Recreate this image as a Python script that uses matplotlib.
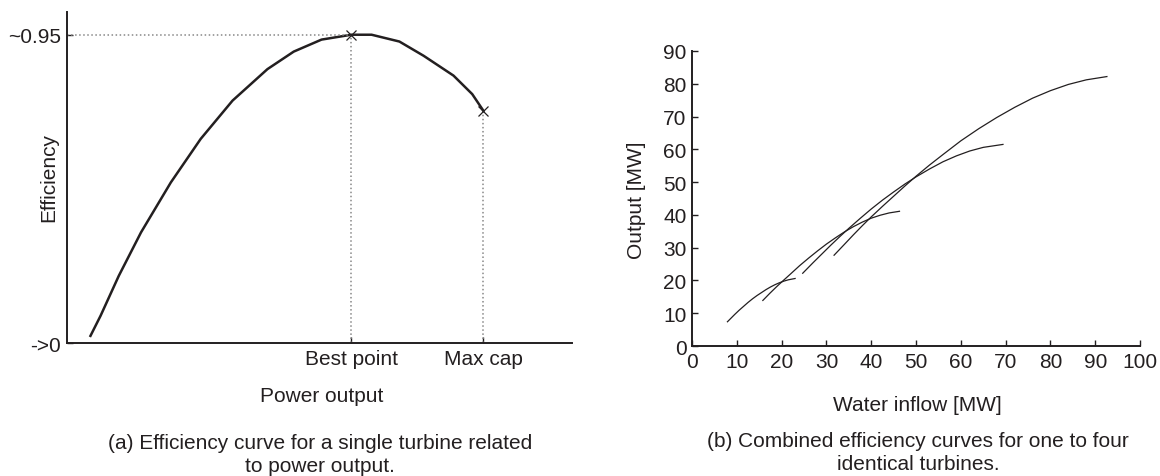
import matplotlib
matplotlib.use("Agg")
import matplotlib.pyplot as plt

plt.rcParams['font.family'] = ['Liberation Sans', 'DejaVu Sans']
plt.rcParams['font.size'] = 15
ink = '#231f20'

# (a) single turbine efficiency curve (relative units)
power = [0.47, 0.67, 1.03, 1.47, 2.06, 2.65, 3.28, 3.97, 4.49, 5.04, 5.63, 6.03, 6.58, 7.06, 7.65, 8.02, 8.24]
eff = [0.022, 0.084, 0.207, 0.341, 0.495, 0.629, 0.747, 0.844, 0.898, 0.935, 0.95, 0.95, 0.929, 0.885, 0.824, 0.767, 0.716]
best_x, best_y = 5.63, 0.95
max_x, max_y = 8.24, 0.716

# (b) combined curves, one to four turbines
inflow1 = [7.9, 8.7, 9.5, 10.5, 11.5, 12.5, 13.5, 14.5, 15.5, 16.5, 17.5, 18.5, 19.5, 20.5, 21.5, 23.0]
out1 = [7.4, 8.5, 9.6, 10.9, 12.1, 13.3, 14.4, 15.4, 16.3, 17.2, 18.0, 18.7, 19.3, 19.8, 20.2, 20.6]
inflow2 = [15.8, 17.3, 18.8, 20.3, 22, 24, 26, 28, 30, 32, 34, 36, 38, 40, 42, 44, 46.3]
out2 = [13.9, 16.0, 18.0, 19.9, 22.0, 24.5, 26.8, 29.0, 31.1, 33.0, 34.8, 36.4, 37.8, 39.0, 39.9, 40.6, 41.1]
inflow3 = [24.7, 27, 29, 31, 33, 35, 37.5, 40, 42.5, 45, 47.5, 50, 53, 56, 59, 62, 65, 69.4]
out3 = [22.2, 25.4, 28.1, 30.8, 33.4, 35.9, 38.9, 41.8, 44.5, 47.0, 49.4, 51.6, 54.0, 56.2, 58.0, 59.5, 60.6, 61.5]
inflow4 = [31.7, 34, 36, 38, 40, 42.5, 45, 47.5, 50, 53, 56, 60, 64, 68, 72, 76, 80, 84, 88, 92.6]
out4 = [27.7, 31.0, 33.9, 36.7, 39.4, 42.6, 45.7, 48.8, 51.8, 55.2, 58.4, 62.6, 66.3, 69.7, 72.8, 75.6, 77.9, 79.8, 81.2, 82.2]

fig = plt.figure(figsize=(11.6, 4.77), dpi=100)

ax1 = fig.add_axes([0.0575, 0.2788, 0.4359, 0.6946])
ax1.plot(power, eff, color=ink, linewidth=1.8)
ax1.plot([0, best_x], [best_y, best_y], color='#888888', linestyle=':', linewidth=1.1)
ax1.plot([best_x, best_x], [0, best_y], color='#888888', linestyle=':', linewidth=1.1)
ax1.plot([max_x, max_x], [0, max_y], color='#888888', linestyle=':', linewidth=1.1)
ax1.plot([best_x, max_x], [best_y, max_y], linestyle='none', marker='x', color=ink,
         markersize=7, markeredgewidth=0.9)
ax1.set_xlim(0, 10)
ax1.set_ylim(0, 1.021)
ax1.set_xticks([best_x, max_x])
ax1.set_xticklabels(['Best point', 'Max cap'])
ax1.set_yticks([0, 0.95])
ax1.set_yticklabels(['->0', '~0.95'])
ax1.set_xlabel('Power output')
ax1.xaxis.set_label_coords(0.504, -0.159)
ax1.xaxis.label.set_va('center')
ax1.set_ylabel('Efficiency')
ax1.yaxis.set_label_coords(-0.036, 0.504)
ax1.yaxis.label.set_va('center')

ax2 = fig.add_axes([0.5966, 0.2725, 0.3862, 0.6185])
for xs, ys in [(inflow1, out1), (inflow2, out2), (inflow3, out3), (inflow4, out4)]:
    ax2.plot(xs, ys, color=ink, linewidth=0.9)
ax2.set_xlim(0, 100)
ax2.set_ylim(0, 90)
ax2.set_xticks(range(0, 101, 10))
ax2.set_yticks(range(0, 91, 10))
ax2.set_xlabel('Water inflow [MW]')
ax2.xaxis.set_label_coords(0.504, -0.197)
ax2.xaxis.label.set_va('center')
ax2.set_ylabel('Output [MW]')
ax2.yaxis.set_label_coords(-0.125, 0.498)
ax2.yaxis.label.set_va('center')

for ax in (ax1, ax2):
    for s in ('top', 'right'):
        ax.spines[s].set_visible(False)
    for s in ('left', 'bottom'):
        ax.spines[s].set_color(ink)
        ax.spines[s].set_linewidth(1.4)
    ax.tick_params(direction='in', length=4, width=1, colors=ink, labelsize=15, pad=4)
    ax.xaxis.label.set_color(ink)
    ax.yaxis.label.set_color(ink)

fig.text(320 / 1160, 1 - 455 / 477, '(a) Efficiency curve for a single turbine related\nto power output.',
         ha='center', va='center', color=ink, linespacing=1.25)
fig.text(918 / 1160, 1 - 453 / 477, '(b) Combined efficiency curves for one to four\nidentical turbines.',
         ha='center', va='center', color=ink, linespacing=1.25)

fig.savefig('out.png', dpi=100)
